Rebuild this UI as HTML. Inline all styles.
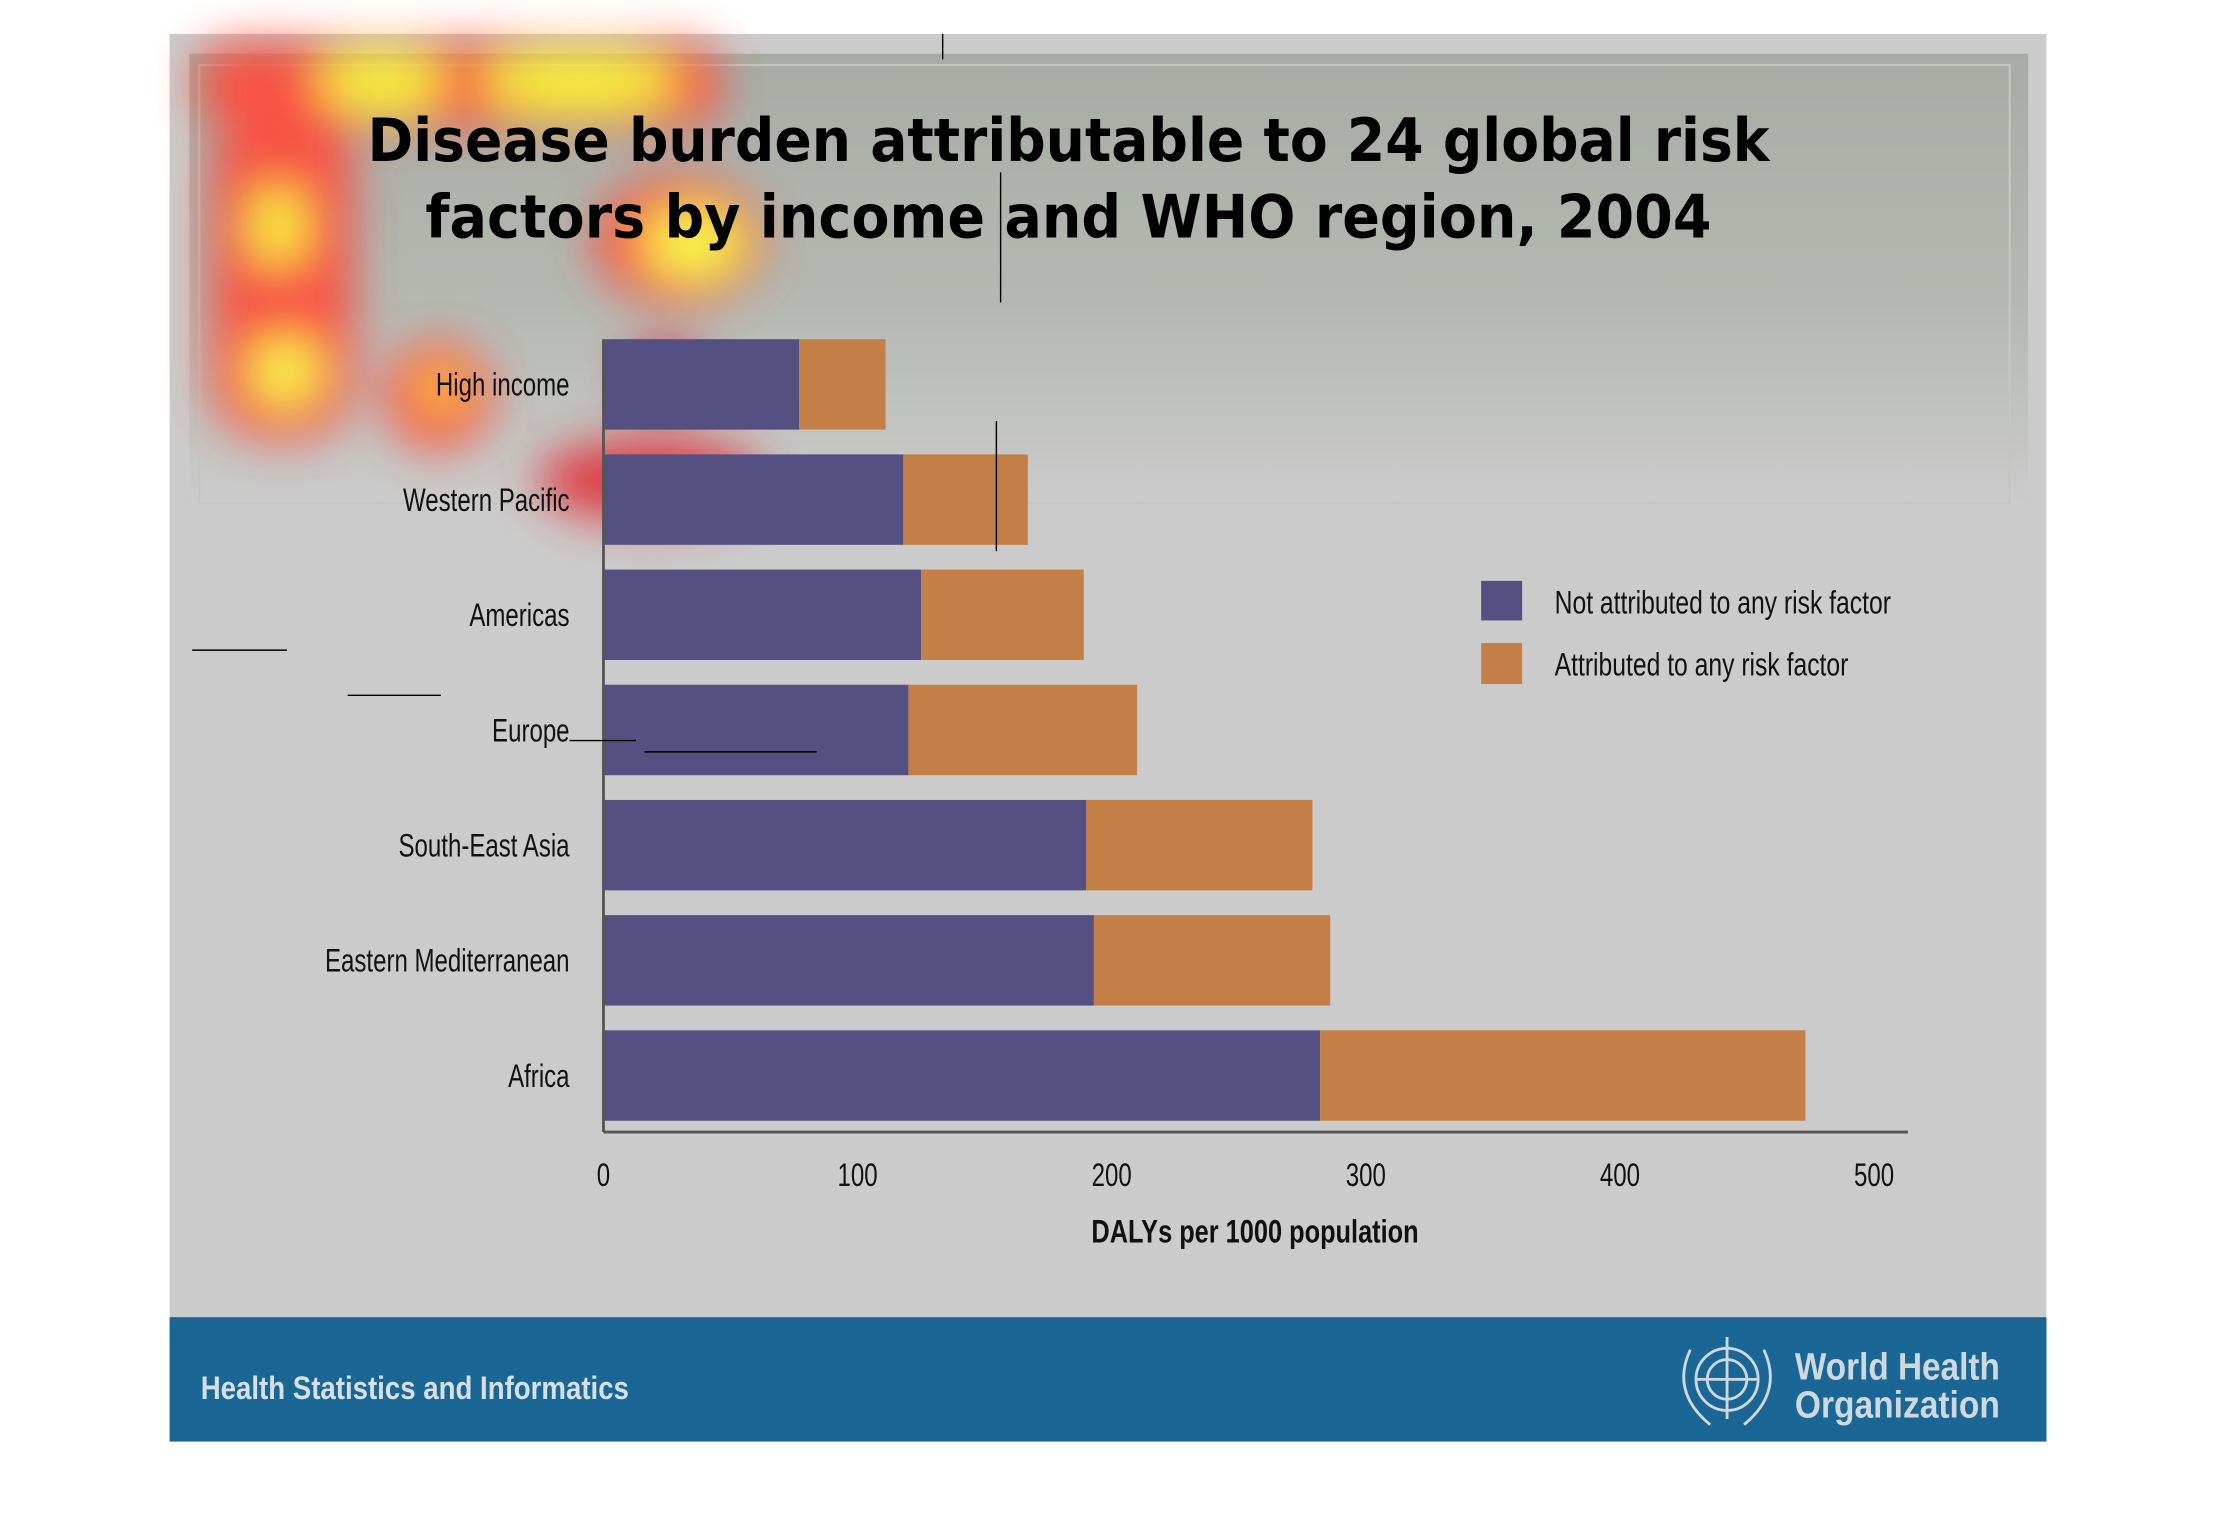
<!DOCTYPE html>
<html><head><meta charset="utf-8"><style>
html,body{margin:0;padding:0;background:#fff;width:2216px;height:1530px;overflow:hidden}
svg{display:block}
.cond{font-family:"Liberation Sans Narrow","Liberation Sans",sans-serif}
</style></head><body>
<svg id="chart" width="2216" height="1530" viewBox="0 0 2216 1530" xmlns="http://www.w3.org/2000/svg">
<defs>
<linearGradient id="topg" x1="0" y1="0" x2="0" y2="1">
<stop offset="0" stop-color="#a6aca5"/><stop offset="0.55" stop-color="#b4b8b2"/><stop offset="1" stop-color="#cbcbcb"/>
</linearGradient>
<filter id="blur" x="-50%" y="-50%" width="200%" height="200%"><feGaussianBlur stdDeviation="16"/></filter>
</defs>
<g transform="scale(1.4133)">
<rect x="120" y="24" width="1328" height="996" fill="#cbcbcb"/>
<rect x="134" y="38" width="1301" height="320" fill="url(#topg)"/>
<rect x="141" y="46" width="1281" height="310" fill="none" stroke="#c4c6c2" stroke-width="1.5"/>
<g filter="url(#blur)" opacity="0.9">
<rect x="140" y="30" width="370" height="60" rx="25" fill="#ff4a3a"/>
<rect x="150" y="80" width="100" height="230" rx="40" fill="#ff4a3a"/>
<circle cx="310" cy="280" r="38" fill="#ff4a3a"/>
<ellipse cx="480" cy="170" rx="60" ry="45" fill="#ff4a3a"/>
<ellipse cx="460" cy="340" rx="80" ry="30" fill="#e0303a"/>
<ellipse cx="470" cy="265" rx="25" ry="22" fill="#d02040"/>
<ellipse cx="270" cy="58" rx="45" ry="20" fill="#ffff30"/>
<ellipse cx="410" cy="58" rx="70" ry="20" fill="#ffff30"/>
<ellipse cx="197" cy="160" rx="18" ry="28" fill="#ffff30"/>
<circle cx="202" cy="263" r="24" fill="#ffff40"/>
<ellipse cx="490" cy="172" rx="35" ry="25" fill="#ffff40"/>
<circle cx="312" cy="276" r="14" fill="#ffe030"/>
</g>
<text x="756" y="114" text-anchor="middle" font-family="DejaVu Sans, sans-serif" font-weight="bold" font-size="42" textLength="992" lengthAdjust="spacingAndGlyphs" fill="#000">Disease burden attributable to 24 global risk</text>
<text x="756" y="168" text-anchor="middle" font-family="DejaVu Sans, sans-serif" font-weight="bold" font-size="42" textLength="910" lengthAdjust="spacingAndGlyphs" fill="#000">factors by income and WHO region, 2004</text>
<g id="plot"></g>
<g>
<rect x="1048" y="411" width="29" height="28" fill="#545082"/>
<text class="cond" transform="translate(1100,434) scale(0.76,1)" font-size="23" fill="#111">Not attributed to any risk factor</text>
<rect x="1048" y="455" width="29" height="29" fill="#c47f47"/>
<text class="cond" transform="translate(1100,478) scale(0.76,1)" font-size="23" fill="#111">Attributed to any risk factor</text>
</g>
<g stroke="#000" stroke-width="1">
<line x1="667" y1="24" x2="667" y2="42"/><line x1="708" y1="122" x2="708" y2="214"/>
<line x1="705" y1="298" x2="705" y2="390"/><line x1="136" y1="460" x2="203" y2="460"/>
<line x1="246" y1="492" x2="312" y2="492"/><line x1="403" y1="524" x2="450" y2="524"/>
<line x1="456" y1="532" x2="578" y2="532"/>
</g>
<rect x="120" y="932" width="1328" height="88" fill="#1a6795"/>
<text transform="translate(142,990) scale(0.85,1)" font-family="Liberation Sans, sans-serif" font-weight="bold" font-size="23" fill="#d6e0e8">Health Statistics and Informatics</text>
<g fill="none" stroke="#d0d8df" stroke-width="2">
<circle cx="1222" cy="976" r="22"/><circle cx="1222" cy="976" r="14"/>
<line x1="1200" y1="976" x2="1244" y2="976"/><line x1="1222" y1="946" x2="1222" y2="1004"/>
<path d="M1196 955 Q1182 985 1210 1008"/><path d="M1248 955 Q1262 985 1234 1008"/>
</g>
<text x="1270" y="976" font-family="Liberation Sans, sans-serif" font-weight="bold" font-size="27" fill="#d0d8df" textLength="145" lengthAdjust="spacingAndGlyphs">World Health</text>
<text x="1270" y="1003" font-family="Liberation Sans, sans-serif" font-weight="bold" font-size="27" fill="#d0d8df" textLength="145" lengthAdjust="spacingAndGlyphs">Organization</text>
</g>
</svg>
<script>
const categories = ["High income","Western Pacific","Americas","Europe","South-East Asia","Eastern Mediterranean","Africa"];
const notAttributed = [77, 118, 125, 120, 190, 193, 282];
const attributed = [34, 49, 64, 90, 89, 93, 191];
const xTicks = [0,100,200,300,400,500];

const NS = "http://www.w3.org/2000/svg";
const plot = document.getElementById("plot");
const x0 = 427, xPer = 1.798, yTop = 240, band = 81.5, barH = 64, axisY = 801, axisEnd = 1350;
function xs(v){ return x0 + v * xPer; }
function yb(i){ return yTop + i * band; }
function mk(tag, attrs, parent){ const e = document.createElementNS(NS, tag); for (const k in attrs) e.setAttribute(k, attrs[k]); (parent||plot).appendChild(e); return e; }

categories.forEach((c, i) => {
  const b1 = mk("rect", {x: xs(0), y: yb(i), width: xs(notAttributed[i]) - xs(0), height: barH, fill: "#545082"});
  
  
  const b2 = mk("rect", {x: xs(notAttributed[i]), y: yb(i), width: xs(notAttributed[i] + attributed[i]) - xs(notAttributed[i]), height: barH, fill: "#c47f47"});
  
  
  const t = mk("text", {transform: "translate(403," + (yb(i) + barH/2 + 8) + ") scale(0.74,1)", "text-anchor": "end", "font-size": "23", fill: "#111", class: "cond"});
  t.textContent = c;
  
  
});
const ya = mk("line", {x1: x0, y1: yTop, x2: x0, y2: axisY, stroke: "#555", "stroke-width": 2});


const xa = mk("line", {x1: x0, y1: axisY, x2: axisEnd, y2: axisY, stroke: "#555", "stroke-width": 2});


xTicks.forEach(v => {
  const t = mk("text", {transform: "translate(" + xs(v) + ",839) scale(0.74,1)", "text-anchor": "middle", "font-size": "23", fill: "#111", class: "cond"});
  t.textContent = v;
  
  
});
const xt = mk("text", {transform: "translate(888,879) scale(0.78,1)", "text-anchor": "middle", "font-size": "23", "font-weight": "bold", fill: "#111", class: "cond"});
xt.textContent = "DALYs per 1000 population";


</script>
</body></html>
